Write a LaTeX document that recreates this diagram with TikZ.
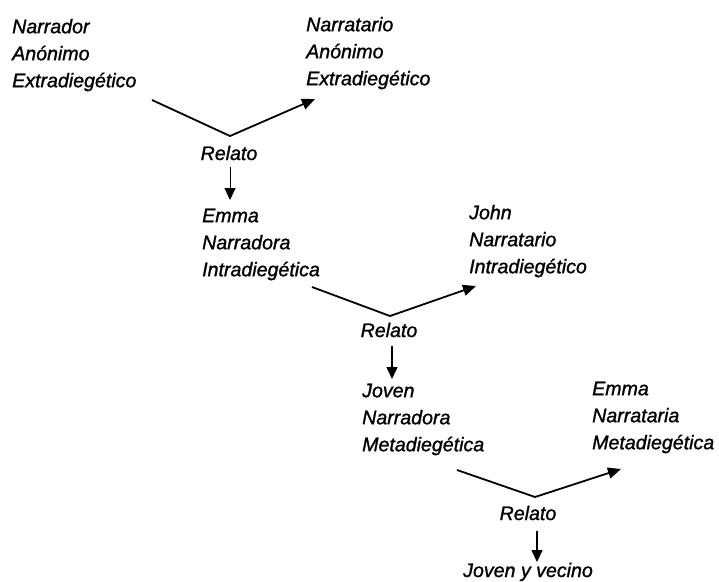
\documentclass[tikz,border=0pt]{standalone}
\usepackage{fontspec}
\setmainfont{Liberation Sans}[ItalicFeatures={FakeBold=1.2}]
\usetikzlibrary{arrows.meta}
\begin{document}
\begin{tikzpicture}[x=1pt,y=-1pt,
  lbl/.style={inner sep=0pt, font=\fontsize{19.6}{27}\selectfont\itshape, align=left},
  blk/.style={lbl, anchor=north west},
  arr/.style={line width=1.8pt, -{Triangle[length=13pt,width=11pt]}},
  varr/.style={line width=1.5pt, -{Triangle[length=12pt,width=11pt]}}]
\useasboundingbox (0,0) rectangle (719,581);
% blocks (top = first baseline - 15)
\node[blk] (n1) at (12,18) {\rule{0pt}{15pt}Narrador\\Anónimo\\Extradiegético};
\node[blk] (n2) at (306,16) {\rule{0pt}{15pt}Narratario\\Anónimo\\Extradiegético};
\node[blk] (n3) at (202,207) {\rule{0pt}{15pt}Emma\\Narradora\\Intradiegética};
\node[blk] (n4) at (469,204) {\rule{0pt}{15pt}John\\Narratario\\Intradiegético};
\node[blk] (n5) at (362,382) {\rule{0pt}{15pt}Joven\\Narradora\\Metadiegética};
\node[blk] (n6) at (592,380) {\rule{0pt}{15pt}Emma\\Narrataria\\Metadiegética};
% Relato labels
\node[lbl, anchor=base] (r1) at (229,160) {Relato};
\node[lbl, anchor=base] (r2) at (389,337) {Relato};
\node[lbl, anchor=base] (r3) at (528,520) {Relato};
\node[lbl, anchor=base west] (jv) at (463,577) {Joven y vecino};
% arrow points
\coordinate (a1s) at (152,100);
\coordinate (a1v) at (230,136);
\coordinate (a1e) at (315,99);
\coordinate (a2s) at (312,287);
\coordinate (a2v) at (390,316);
\coordinate (a2e) at (476,286);
\coordinate (a3s) at (457,470);
\coordinate (a3v) at (535,497);
\coordinate (a3e) at (621,469);
\coordinate (v1s) at (230,167);
\coordinate (v1e) at (230,200);
\coordinate (v2s) at (392,346);
\coordinate (v2e) at (392,379);
\coordinate (v3s) at (537,531);
\coordinate (v3e) at (537,562);
\draw[arr] (a1s) -- (a1v) -- (a1e);
\draw[arr] (a2s) -- (a2v) -- (a2e);
\draw[arr] (a3s) -- (a3v) -- (a3e);
\draw[varr, line width=1pt] (v1s) -- (v1e);
\draw[varr] (v2s) -- (v2e);
\draw[varr] (v3s) -- (v3e);
\end{tikzpicture}
\end{document}
